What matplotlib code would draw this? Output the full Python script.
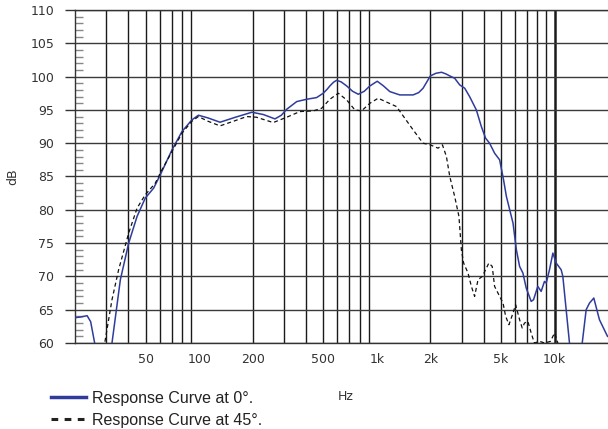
import numpy as np
import matplotlib
matplotlib.use("Agg")
import matplotlib.pyplot as plt
from matplotlib.lines import Line2D
from matplotlib.ticker import FixedLocator, NullFormatter

plt.rcParams['font.family'] = ['DejaVu Sans']

# ---- data: 0 degree response (Hz, dB) ----
freq_0 = [20, 21.5, 23.4, 24.5, 25.8, 28.5, 32.3, 36.0, 40.1, 44.7, 49.7, 55.4, 60.4,
          70.3, 80, 91, 99, 112, 131, 160, 198, 230, 267, 290, 311, 354, 403, 458, 499,
          525, 544, 570, 594, 630, 676, 730, 786, 850, 914, 1005, 1090, 1183, 1346,
          1600, 1720, 1820, 2000, 2150, 2312, 2450, 2573,
          2742, 2927, 3124, 3327, 3630, 3874, 4094, 4310, 4600, 4910, 5166, 5360,
          5840, 6100, 6360, 6640, 6930, 7390, 7620, 8050, 8410, 8780, 8980, 9370,
          9790, 10220, 10900, 11140, 12140, 13200, 14320, 15070, 15740, 16640,
          17900, 19870]
db_0 = [63.8, 63.9, 64.1, 63.2, 60.0, 55.0, 60.0, 69.5, 75.0, 79.0, 81.75, 83.25, 85.25,
        89.0, 91.75, 93.5, 94.2, 93.8, 93.15, 93.9, 94.65, 94.3, 93.65, 94.2, 95.1, 96.25,
        96.6, 96.85, 97.5, 98.1, 98.6, 99.15, 99.45, 99.2, 98.6, 97.8, 97.35, 97.8, 98.6,
        99.3, 98.6, 97.75, 97.25,
        97.25, 97.6, 98.25, 100.1, 100.5, 100.65, 100.4, 100.1,
        99.75, 98.75, 98.25, 97.0, 95.0, 92.5, 90.75,
        90.0, 88.5, 87.5, 84.5, 82.0, 78.0, 74.0, 71.5, 70.5, 68.25, 66.25, 66.5,
        68.5, 67.75, 69.25, 69.0, 71.0, 73.5, 72.0, 71.0, 70.0, 60.0, 55.0, 60.0,
        65.0, 66.0, 66.75, 63.5, 61.0]

# ---- data: 45 degree response (Hz, dB) ----
freq_45 = [27.5, 29.4, 32.3, 35.2, 40.1, 44.7, 49.7, 56.6, 61.7, 70.3, 80, 91, 99,
           112, 131, 160, 185, 210, 261, 311, 369, 439, 489, 544, 607, 676, 752,
           820, 914, 1017, 1290, 1600, 1820, 2000, 2212, 2340, 2463, 2573, 2742,
           2898, 2990, 3080, 3260, 3405, 3550, 3710, 3920, 4270, 4460, 4600, 4910,
           5130, 5310, 5540, 5840, 6040, 6360, 6580, 6780, 7080, 7390, 7700, 8240,
           8800, 9490, 10000, 10440, 11000]
db_45 = [55.0, 60.0, 66.5, 71.0, 76.5, 80.25, 82.25, 84.0, 86.0, 88.75, 91.5, 93.3, 94.0,
         93.3, 92.6, 93.4, 94.0, 93.9, 93.1, 93.9, 94.75, 94.85, 95.25, 96.6, 97.5,
         96.5, 95.0, 94.85, 96.0, 96.75, 95.5, 92.0, 90.0, 89.75, 89.25, 89.75, 88.0,
         85.0, 82.0, 79.0, 74.0, 72.0, 70.5, 68.5, 67.0, 69.5, 70.0, 72.0, 71.5,
         68.5, 67.0, 66.0, 64.0, 62.75, 64.5, 65.75, 63.5, 62.25, 63.0, 63.25, 61.5,
         60.0, 60.25, 60.0, 60.25, 61.5, 60.0, 55.0]

xtick_vals = [50, 100, 200, 500, 1000, 2000, 5000, 10000]
xtick_labels = ['50', '100', '200', '500', '1k', '2k', '5k', '10k']
ytick_vals = [60, 65, 70, 75, 80, 85, 90, 95, 100, 105, 110]

fig = plt.figure(figsize=(6.08, 4.29), dpi=100)
ax = fig.add_axes([75/608, 86/429, 533/608, 333/429])

ax.set_xscale('log')
ax.set_xlim(20, 20000)
ax.set_ylim(60, 110)

# grid lines
grid_x = [f * d for d in (10, 100, 1000) for f in range(2, 10)] + [10000]
grid_x = [g for g in grid_x if g > 20]
for g in grid_x:
    decade = g in (100, 1000, 10000)
    ax.axvline(g, color='#1a1a1a', lw=1.8 if decade else 1.0, zorder=1)
for y in ytick_vals:
    ax.axhline(y, color='#3a3a3a', lw=1.0, zorder=1)

ax.plot(freq_0, db_0, color='#2f3c9c', lw=1.1, zorder=3)
ax.plot(freq_45, db_45, color='#111111', lw=0.9, dashes=(3.2, 2.4), zorder=3)

ax.xaxis.set_major_locator(FixedLocator(xtick_vals))
ax.set_xticklabels(xtick_labels)
ax.xaxis.set_minor_locator(FixedLocator([]))
ax.xaxis.set_minor_formatter(NullFormatter())
ax.tick_params(axis='x', length=0, pad=7, labelsize=9, labelcolor='#333333')

ax.yaxis.set_major_locator(FixedLocator(ytick_vals))
ax.yaxis.set_minor_locator(FixedLocator([v for v in range(60, 111) if v % 5]))
ax.tick_params(axis='y', which='major', direction='out', length=7, width=1,
               color='#333333', labelsize=9, labelcolor='#333333', pad=8)
ax.tick_params(axis='y', which='minor', direction='in', length=6, width=1,
               color='#888888')

ax.spines['right'].set_visible(False)
for s in ('left', 'bottom', 'top'):
    ax.spines[s].set_color('#333333')
    ax.spines[s].set_linewidth(1.0)

ax.set_ylabel('dB', fontsize=9, color='#333333', labelpad=8)
ax.set_xlabel('Hz', fontsize=9, color='#333333')
ax.xaxis.set_label_coords(0.507, -0.14)

handles = [Line2D([], [], color='#2f3c9c', lw=2.5),
           Line2D([], [], color='#222222', lw=2.2, dashes=(2.2, 2.1))]
fig.legend(handles, ['Response Curve at 0°.', 'Response Curve at 45°.'],
           loc='upper left', bbox_to_anchor=(51/608, 1 - 391/429),
           frameon=False, handlelength=2.2, handletextpad=0.37,
           labelspacing=0.43, borderpad=0, borderaxespad=0, labelcolor='#222222',
           prop={'family': 'Liberation Sans', 'size': 11.5})

fig.savefig('out.png', dpi=100)
